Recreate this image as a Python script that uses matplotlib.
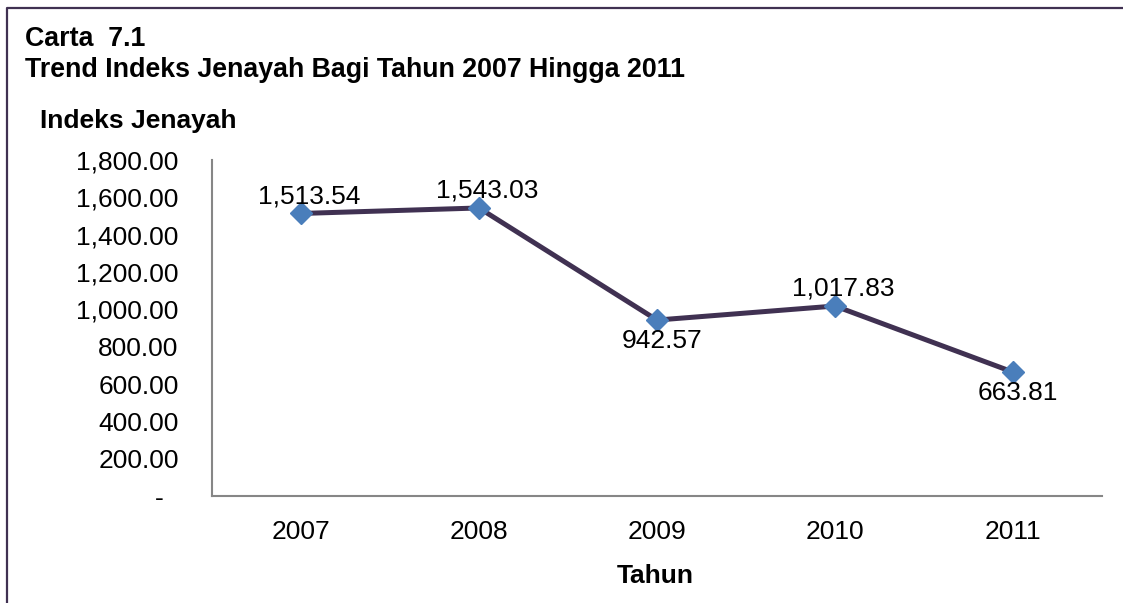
import matplotlib
matplotlib.use("Agg")
import matplotlib.pyplot as plt
from matplotlib.lines import Line2D

# ── data ───────────────────────────────────────────────────────────────────────
years = ["2007", "2008", "2009", "2010", "2011"]
index_values = [1513.54, 1543.03, 942.57, 1017.83, 663.81]
label_above = [True, True, False, True, False]
y_ticks = [0, 200, 400, 600, 800, 1000, 1200, 1400, 1600, 1800]

plt.rcParams["font.family"] = ["Liberation Sans", "DejaVu Sans"]
FS = 19

W, H = 1123, 603
fig = plt.figure(figsize=(W / 100, H / 100), dpi=100)
fig.patch.set_facecolor("white")

ax = fig.add_axes([212 / W, (H - 496) / H, (1102 - 212) / W, (496 - 160) / H])
x = list(range(len(years)))
ax.plot(x, index_values, color="#403152", lw=3.6, marker="D", ms=11,
        mfc="#4a7ebb", mec="#4a7ebb", zorder=3)

# data labels, Excel-style: above or below the point
for xi, v, up in zip(x, index_values, label_above):
    off = (6, 12.5) if up else (3.5, -15)
    ax.annotate(f"{v:,.2f}", (xi, v), xytext=off, textcoords="offset points",
                ha="center", va="center", fontsize=FS, color="black")

ax.set_xlim(-0.5, len(years) - 0.5)
ax.set_ylim(0, 1800)
ax.set_xticks(x)
ax.set_xticklabels(years, fontsize=FS)
ax.set_yticks(y_ticks)
ax.set_yticklabels([f"{t:,.2f}" if t else "-  " for t in y_ticks], fontsize=FS)
ax.tick_params(length=0, pad=24, axis="y")
ax.tick_params(length=0, pad=17, axis="x")

for s in ("top", "right"):
    ax.spines[s].set_visible(False)
for s in ("left", "bottom"):
    ax.spines[s].set_color("#868686")
    ax.spines[s].set_linewidth(1.5)

# ── titles ─────────────────────────────────────────────────────────────────────
fig.text(25 / W, 1 - 39 / H, "Carta  7.1", fontsize=19.3, fontweight="bold", va="center")
fig.text(25 / W, 1 - 70 / H, "Trend Indeks Jenayah Bagi Tahun 2007 Hingga 2011",
         fontsize=19.3, fontweight="bold", va="center")
fig.text(40 / W, 1 - 121 / H, "Indeks Jenayah", fontsize=FS, fontweight="bold", va="center")
fig.text(655 / W, 1 - 576 / H, "Tahun", fontsize=FS, fontweight="bold",
         va="center", ha="center")

# ── frame (top and left only) ─────────────────────────────────────────────────
fig.add_artist(Line2D([7 / W, 7 / W, 1], [0, 1 - 7.5 / H, 1 - 7.5 / H],
                      color="#403152", lw=1.6))

fig.savefig("out.png", dpi=100, facecolor="white")
